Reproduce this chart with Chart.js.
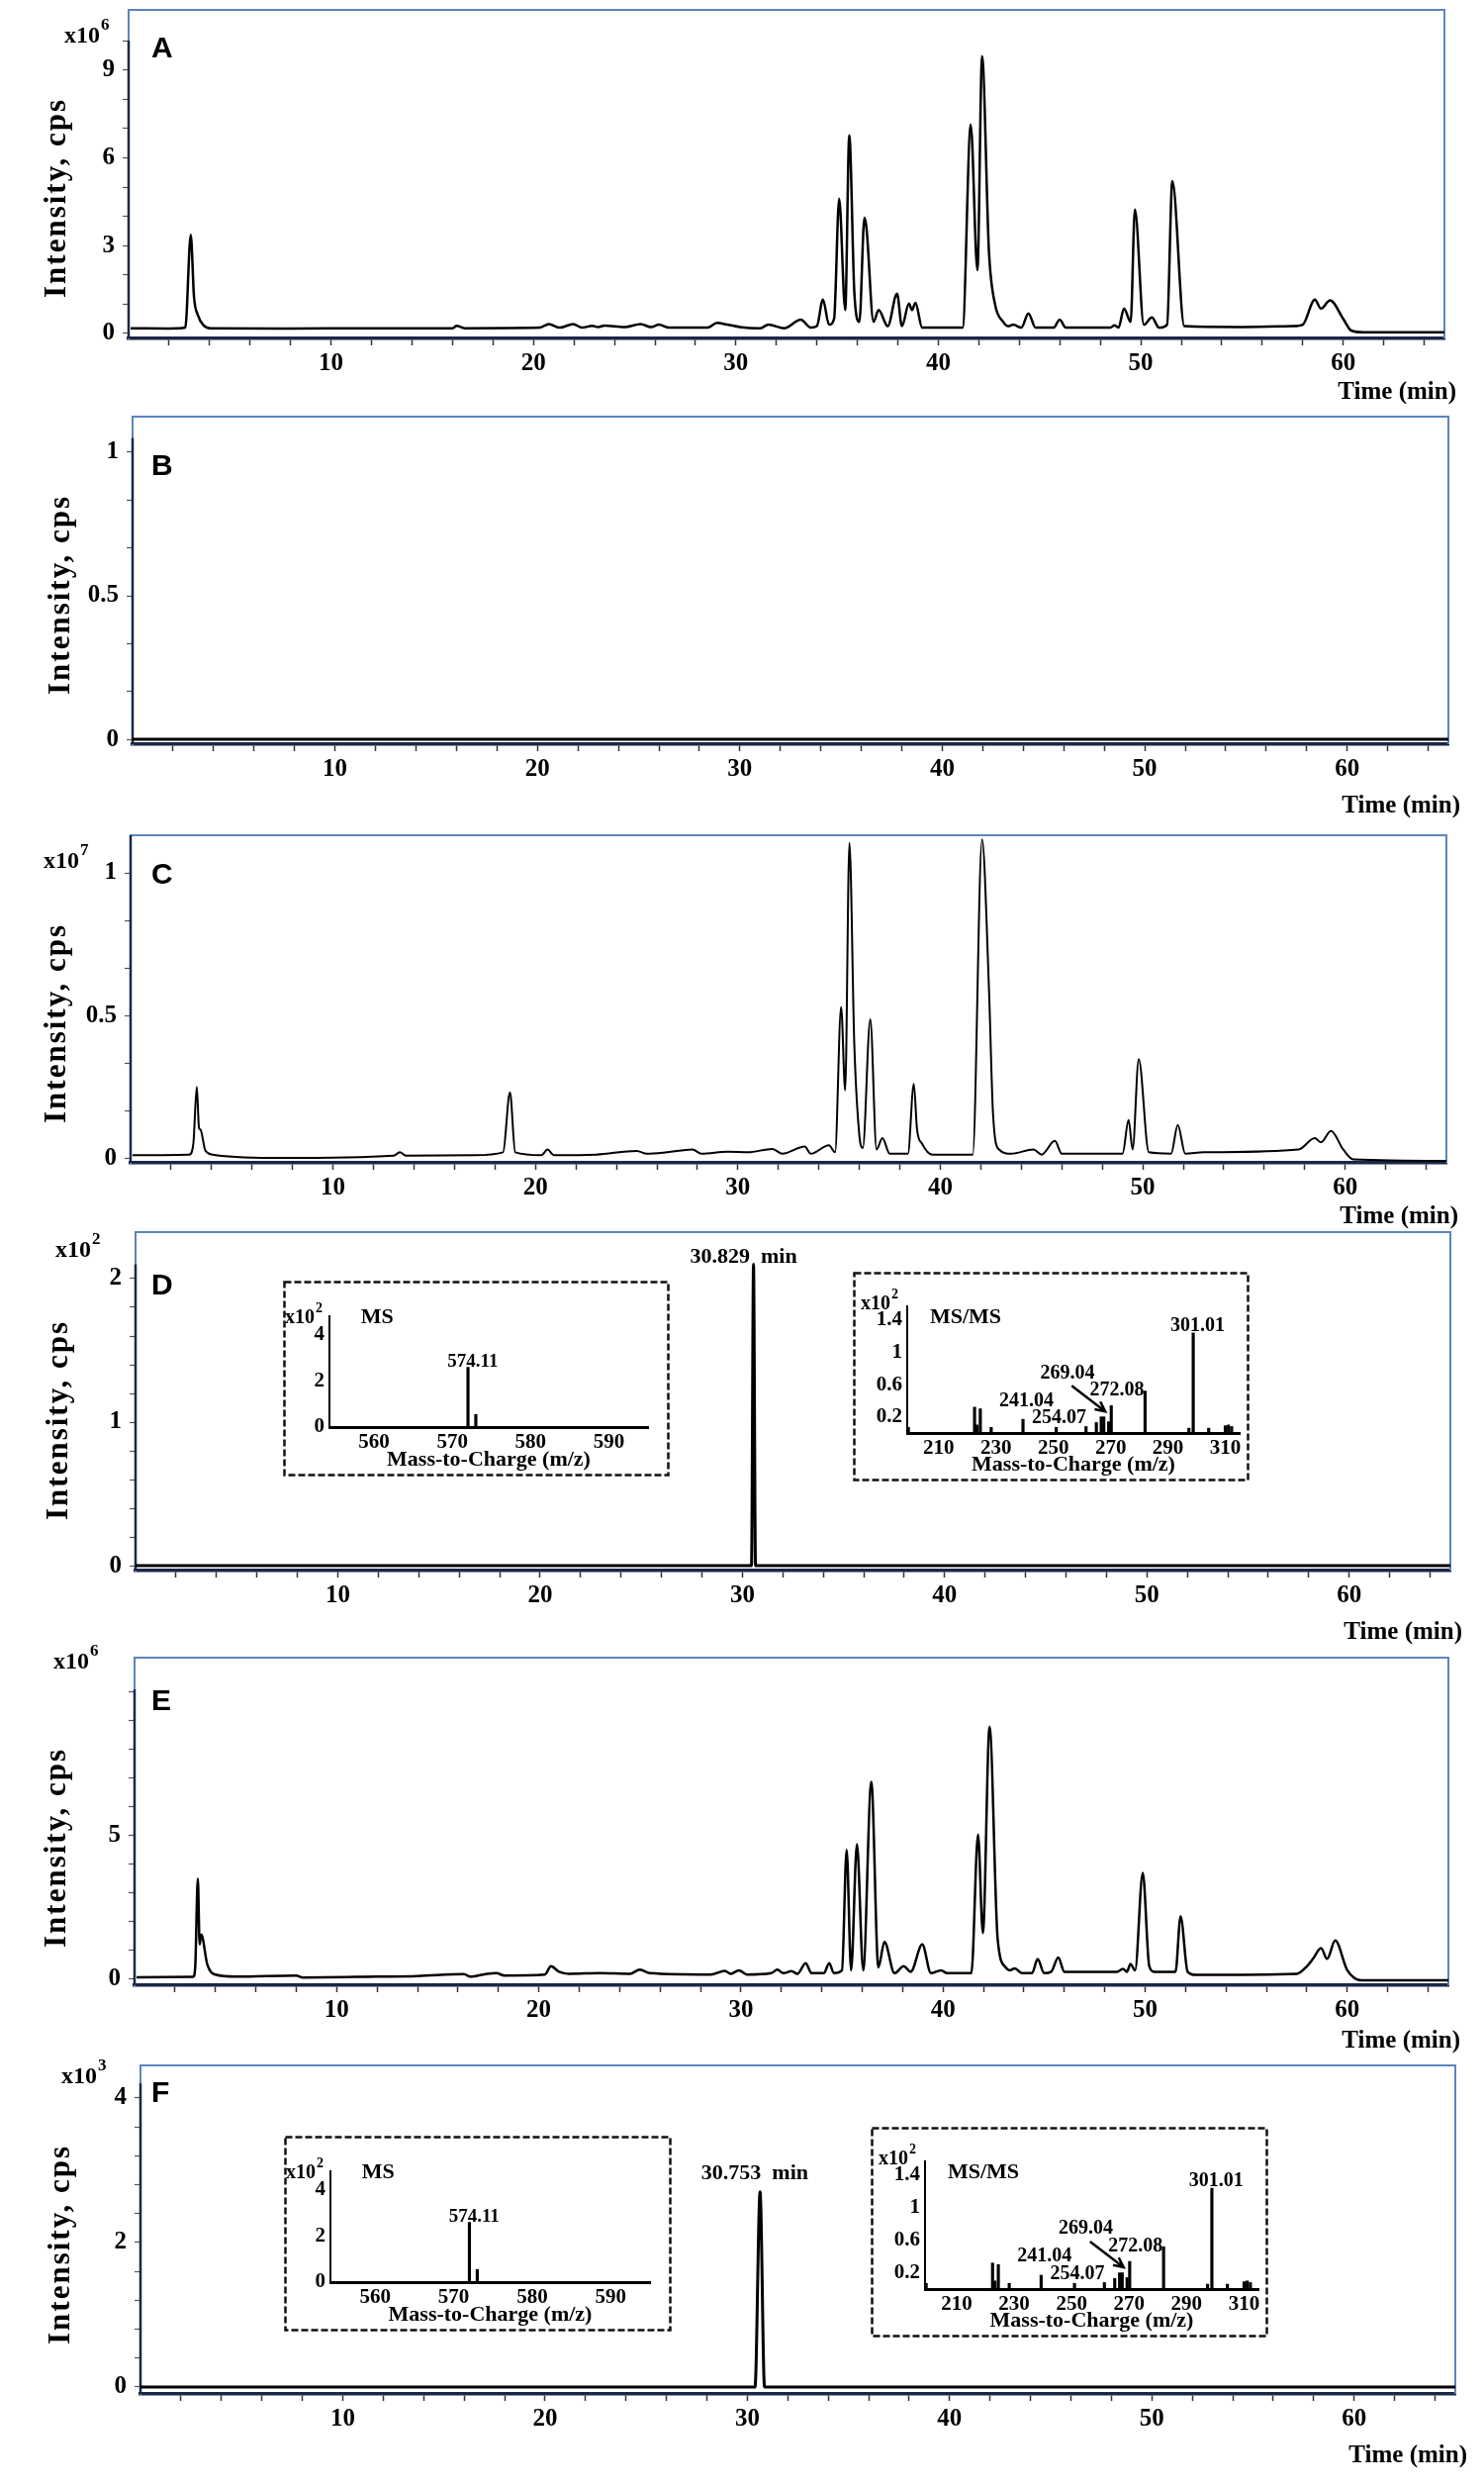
<!DOCTYPE html>
<html>
<head>
<meta charset="utf-8">
<script src="https://cdn.jsdelivr.net/npm/chart.js@4.4.1/dist/chart.umd.min.js"></script>
<style>
  html, body { margin: 0; padding: 0; background: #fff; }
  #page { position: relative; width: 1500px; height: 2512px; overflow: hidden; background: #fff; }
  #page canvas { position: absolute; left: 0; }
</style>
</head>
<body>
<div id="page"></div>
<script>
// ---------- data ----------
const timeTickLabels = [10, 20, 30, 40, 50, 60];

// A: total ion chromatogram, x10^6 cps
const timeA = [0.1, 2.0, 2.8, 3.07, 3.23, 3.42, 3.7, 4.05, 8.0, 12.0, 16.0, 16.2, 16.6, 20.3, 20.76, 21.3, 21.96, 22.4, 22.9, 23.2,
  23.5, 24.5, 25.3, 25.8, 26.2, 26.7, 28.6, 29.06, 29.6, 30.2, 31.2, 31.6, 32.4, 33.2, 33.7, 34.0, 34.3, 34.6, 34.85, 35.1,
  35.4, 35.6, 35.85, 36.1, 36.35, 36.45, 36.8, 37.05, 37.5, 37.96, 38.2, 38.55, 38.7, 38.87, 39.2, 41.2, 41.6, 41.93, 42.16, 42.5,
  42.8, 43.2, 43.45, 43.7, 44.1, 44.45, 44.8, 45.7, 45.99, 46.3, 48.5, 48.7, 48.9, 49.17, 49.5, 49.71, 50.15, 50.55, 50.9, 51.3,
  51.56, 52.15, 55.0, 57.5, 58.0, 58.6, 58.9, 59.35, 60.0, 60.4, 61.0, 65.0];
const intA = [0.18, 0.17, 0.2, 3.37, 1.25, 0.63, 0.28, 0.18, 0.17, 0.18, 0.18, 0.26, 0.18, 0.2, 0.32, 0.2, 0.32, 0.2, 0.26, 0.22,
  0.27, 0.22, 0.32, 0.22, 0.3, 0.2, 0.2, 0.36, 0.3, 0.22, 0.18, 0.3, 0.18, 0.47, 0.2, 0.25, 1.16, 0.3, 0.5, 4.6,
  0.8, 6.77, 1.4, 0.4, 3.95, 3.6, 0.4, 0.8, 0.25, 1.36, 0.25, 1.02, 0.8, 1.05, 0.2, 0.2, 7.13, 2.16, 9.47, 2.8,
  1.0, 0.4, 0.25, 0.3, 0.2, 0.68, 0.2, 0.2, 0.47, 0.2, 0.2, 0.28, 0.2, 0.85, 0.4, 4.23, 0.3, 0.55, 0.2, 0.3,
  5.2, 0.25, 0.22, 0.25, 0.3, 1.16, 0.85, 1.13, 0.5, 0.1, 0.04, 0.04];

// B: blank, flat
const timeB = [0, 65];
const intB = [0, 0];

// C: x10^7 cps
const timeC = [0.1, 2.9, 3.1, 3.27, 3.38, 3.45, 3.7, 4.2, 7.5, 13.0, 13.3, 13.6, 17.0, 18.4, 18.74, 19.0, 20.3, 20.6, 20.9, 23.0,
  25.0, 25.5, 26.5, 27.75, 28.2, 29.5, 30.5, 31.7, 32.2, 33.3, 33.6, 34.5, 34.8, 35.1, 35.3, 35.51, 35.75, 36.0, 36.17, 36.54,
  36.85, 37.14, 37.5, 38.4, 38.69, 38.85, 39.1, 39.6, 41.6, 42.06, 42.4, 42.6, 42.9, 43.5, 44.6, 45.0, 45.66, 46.0, 49.0, 49.3,
  49.5, 49.8, 50.3, 51.4, 51.73, 52.1, 53.0, 57.7, 58.5, 58.8, 59.3, 59.9, 60.4, 65.0];
const intC = [0.01, 0.012, 0.05, 0.249, 0.105, 0.1, 0.025, 0.01, 0.0, 0.008, 0.02, 0.008, 0.01, 0.02, 0.23, 0.02, 0.01, 0.03, 0.01, 0.012,
  0.025, 0.015, 0.02, 0.03, 0.015, 0.022, 0.02, 0.032, 0.015, 0.04, 0.015, 0.045, 0.02, 0.53, 0.237, 1.105, 0.4, 0.08, 0.035, 0.486,
  0.03, 0.07, 0.015, 0.015, 0.26, 0.1, 0.05, 0.012, 0.012, 1.117, 0.6, 0.16, 0.03, 0.015, 0.03, 0.012, 0.06, 0.015, 0.015, 0.133,
  0.03, 0.347, 0.02, 0.015, 0.116, 0.015, 0.02, 0.03, 0.07, 0.055, 0.095, 0.03, -0.005, -0.01];

// D: x10^2 cps, single peak
const timeD = [0, 30.45, 30.55, 30.65, 65];
const intD = [0, 0, 2.1, 0, 0];

// E: x10^6 cps
const timeE = [0.1, 2.9, 3.0, 3.13, 3.22, 3.3, 3.6, 4.0, 5.0, 8.0, 8.3, 12.0, 14.0, 16.3, 16.6, 17.45, 17.9, 18.3, 20.3, 20.6,
  21.0, 21.5, 23.0, 24.5, 25.0, 25.5, 28.5, 29.2, 29.5, 29.9, 30.3, 31.5, 31.8, 32.1, 32.5, 32.8, 33.2, 33.5, 34.1, 34.37,
  34.6, 35.0, 35.23, 35.45, 35.74, 36.05, 36.45, 36.8, 37.1, 37.6, 38.05, 38.4, 38.97, 39.4, 39.9, 40.2, 41.4, 41.73, 41.97, 42.3,
  42.7, 43.1, 43.3, 43.55, 43.9, 44.4, 44.68, 45.0, 45.35, 45.7, 46.0, 48.6, 48.9, 49.1, 49.27, 49.5, 49.88, 50.2, 50.45, 51.5,
  51.75, 52.1, 52.5, 57.5, 58.0, 58.3, 58.7, 59.0, 59.4, 60.0, 60.7, 65.0];
const intE = [0.06, 0.07, 0.4, 3.5, 1.2, 1.55, 0.5, 0.15, 0.08, 0.12, 0.05, 0.08, 0.1, 0.17, 0.08, 0.18, 0.2, 0.12, 0.15, 0.44,
  0.25, 0.18, 0.2, 0.18, 0.32, 0.2, 0.15, 0.28, 0.18, 0.3, 0.15, 0.2, 0.32, 0.2, 0.27, 0.18, 0.55, 0.2, 0.2, 0.55,
  0.2, 0.3, 4.5, 0.3, 4.7, 0.3, 6.87, 0.4, 1.29, 0.2, 0.44, 0.25, 1.2, 0.2, 0.3, 0.2, 0.2, 5.03, 1.6, 8.79,
  1.4, 0.4, 0.3, 0.37, 0.2, 0.2, 0.69, 0.2, 0.25, 0.75, 0.25, 0.25, 0.35, 0.25, 0.52, 0.3, 3.7, 0.45, 0.25, 0.25,
  2.18, 0.25, 0.14, 0.18, 0.44, 0.7, 1.07, 0.7, 1.34, 0.3, -0.05, -0.05];

// F: x10^3 cps, single peak
const timeF = [0, 30.38, 30.63, 30.85, 65];
const intF = [0, 0, 2.7, 0, 0];

// y tick labels per panel
const yLabelsA = [0, 3, 6, 9];
const yLabelsB = [0, 0.5, 1];
const yLabelsC = [0, 0.5, 1];
const yLabelsD = [0, 1, 2];
const yLabelsE = [0, 5];
const yLabelsF = [0, 2, 4];

// MS inset (x10^2)
const msMz = [572.0, 573.0];
const msInt = [2.6, 0.55];
const msMzLabels = [560, 570, 580, 590];
const msIntLabels = [0, 2, 4];
const msPeakText = '574.11';

// MS/MS inset (x10^2)
const msmsMz = [199.4, 222.5, 223.3, 224.5, 228.3, 239.4, 251.0, 261.4, 265.0, 266.7, 267.6, 269.3, 270.2, 282.0, 297.3, 298.8, 304.2, 310.0, 311.1, 312.2];
const msmsInt = [0.07, 0.32, 0.1, 0.3, 0.07, 0.17, 0.07, 0.08, 0.13, 0.2, 0.2, 0.14, 0.34, 0.52, 0.06, 1.24, 0.06, 0.09, 0.1, 0.08];
const msmsMzLabels = [210, 230, 250, 270, 290, 310];
const msmsIntLabels = [0.2, 0.6, 1, 1.4];
const msmsPeakTexts = ['301.01', '269.04', '272.08', '241.04', '254.07'];

// ---------- styling ----------
const FRAME = '#5b86bd';
const AXIS = '#1b2747';
const SERIF = '"Liberation Serif", "Times New Roman", serif';
const SANS = '"Liberation Sans", Arial, sans-serif';
const PAD_T = 30;
const XAXIS_H = 90;
const page = document.getElementById('page');

function near(list, v) {
  const hit = list.find(l => Math.abs(l - v) < 1e-6);
  return hit === undefined ? '' : String(hit);
}

function drawExpo(ctx, x, y, big, small, expo) {
  ctx.font = 'bold ' + big + 'px ' + SERIF;
  ctx.textAlign = 'left';
  ctx.textBaseline = 'alphabetic';
  ctx.fillText('x10', x, y);
  const w = ctx.measureText('x10').width;
  ctx.font = 'bold ' + small + 'px ' + SERIF;
  ctx.fillText(expo, x + w + 1, y - big * 0.55);
}

// frame, dark y axis, panel letter, titles
const panelDeco = {
  id: 'panelDeco',
  beforeDatasetsDraw(chart, args, o) {
    const { ctx, chartArea: a, scales } = chart;
    ctx.save();
    ctx.strokeStyle = FRAME;
    ctx.lineWidth = 2;
    ctx.beginPath();
    ctx.moveTo(a.left, a.bottom);
    ctx.lineTo(a.left, a.top);
    ctx.lineTo(a.right, a.top);
    ctx.lineTo(a.right, a.bottom);
    ctx.stroke();
    const yTop = scales.y.getPixelForValue(o.axisTop);
    ctx.strokeStyle = AXIS;
    ctx.lineWidth = 2.5;
    ctx.beginPath();
    ctx.moveTo(a.left, yTop);
    ctx.lineTo(a.left, a.bottom);
    ctx.stroke();
    ctx.restore();
  },
  afterDraw(chart, args, o) {
    const { ctx, chartArea: a, scales } = chart;
    const cy = y => y - o.canvasTop;
    ctx.save();
    ctx.fillStyle = '#000';

    ctx.font = 'bold 30px ' + SANS;
    ctx.textAlign = 'left';
    ctx.textBaseline = 'alphabetic';
    ctx.fillText(o.letter, 153, cy(o.letterY));

    if (o.expo) drawExpo(ctx, o.expoPos[0], cy(o.expoPos[1]), 24, 17, o.expo);

    ctx.save();
    ctx.translate(o.titleX, cy(o.titleY));
    ctx.rotate(-Math.PI / 2);
    ctx.font = 'bold 31px ' + SERIF;
    ctx.letterSpacing = '2px';
    ctx.textAlign = 'center';
    ctx.textBaseline = 'middle';
    ctx.fillText('Intensity, cps', 0, 0);
    ctx.restore();

    ctx.font = 'bold 25px ' + SERIF;
    ctx.textAlign = 'right';
    ctx.textBaseline = 'middle';
    ctx.fillText('Time (min)', a.right + 12, cy(o.timeY));

    if (o.peakLabel) {
      ctx.font = 'bold 22px ' + SERIF;
      ctx.textAlign = 'center';
      ctx.fillText(o.peakLabel.text, scales.x.getPixelForValue(o.peakLabel.t), scales.y.getPixelForValue(o.peakLabel.v));
    }
    ctx.restore();
  }
};

const panels = [
  { letter: 'A', times: timeA, values: intA, lw: 2.5, box: [130, 10, 1460, 342], yRange: [-0.17, 11.05], minor: 1, yLabels: yLabelsA, axisTop: 10,
    letterY: 58, expo: '6', expoPos: [65, 43], titleX: 58, titleY: 200, timeY: 397 },
  { letter: 'B', times: timeB, values: intB, lw: 3, box: [134, 421, 1464, 752], yRange: [-0.017, 1.124], minor: 1 / 6, yLabels: yLabelsB, axisTop: 1.05,
    letterY: 480, expo: null, titleX: 62, titleY: 601, timeY: 815 },
  { letter: 'C', times: timeC, values: intC, lw: 2, box: [132, 844, 1462, 1175], yRange: [-0.017, 1.132], minor: 1 / 6, yLabels: yLabelsC, axisTop: 1.132,
    letterY: 893, expo: '7', expoPos: [44, 877], titleX: 58, titleY: 1034, timeY: 1230 },
  { letter: 'D', times: timeD, values: intD, lw: 3, box: [137, 1245, 1466, 1587], yRange: [-0.034, 2.324], minor: 0.2, yLabels: yLabelsD, axisTop: 2.1,
    letterY: 1308, expo: '2', expoPos: [56, 1270], titleX: 60, titleY: 1435, timeY: 1650,
    peakLabel: { text: '30.829  min', t: 30.06, v: 2.15 } },
  { letter: 'E', times: timeE, values: intE, lw: 2.5, box: [136, 1675, 1464, 2006], yRange: [-0.22, 11.2], minor: 1, yLabels: yLabelsE, axisTop: 10.1,
    letterY: 1728, expo: '6', expoPos: [54, 1686], titleX: 58, titleY: 1867, timeY: 2063 },
  { letter: 'F', times: timeF, values: intF, lw: 3, box: [142, 2087, 1471, 2419], yRange: [-0.096, 4.45], minor: 0.4, yLabels: yLabelsF, axisTop: 4.2,
    letterY: 2124, expo: '3', expoPos: [62, 2105], titleX: 62, titleY: 2268, timeY: 2482,
    peakLabel: { text: '30.753  min', t: 30.37, v: 2.95 } }
];

function makeCanvas(left, top, w, h) {
  const c = document.createElement('canvas');
  c.width = w; c.height = h;
  c.style.left = left + 'px'; c.style.top = top + 'px';
  c.style.width = w + 'px'; c.style.height = h + 'px';
  page.appendChild(c);
  return c;
}

const timeTicks = [];
for (let t = 2; t <= 64; t += 2) timeTicks.push(t);

panels.forEach(p => {
  const [left, top, right, bottom] = p.box;
  const canvasTop = top - PAD_T;
  const canvas = makeCanvas(0, canvasTop, 1500, bottom - top + PAD_T + XAXIS_H);
  const yTicks = [];
  for (let k = 0; k * p.minor <= p.axisTop + 1e-9; k++) yTicks.push(k * p.minor);
  const tickFont = { family: SERIF, size: 25, weight: 'bold' };

  new Chart(canvas, {
    type: 'line',
    data: {
      datasets: [{
        data: p.times.map((t, i) => ({ x: t, y: p.values[i] })),
        borderColor: '#000',
        borderWidth: p.lw,
        pointRadius: 0,
        cubicInterpolationMode: 'monotone',
        fill: false
      }]
    },
    options: {
      responsive: false,
      animation: false,
      devicePixelRatio: 1,
      layout: { padding: { top: PAD_T, right: 1500 - right, left: 0, bottom: 0 } },
      plugins: {
        legend: { display: false },
        tooltip: { enabled: false },
        panelDeco: Object.assign({ canvasTop }, p)
      },
      scales: {
        x: {
          type: 'linear', min: 0, max: 65,
          afterFit: s => { s.height = XAXIS_H; },
          afterBuildTicks: s => { s.ticks = timeTicks.map(v => ({ value: v })); },
          ticks: { autoSkip: false, maxRotation: 0, padding: 4, color: '#000', font: tickFont,
            callback: v => near(timeTickLabels, v) },
          grid: { drawOnChartArea: false, drawTicks: true, tickLength: 7, tickColor: '#333', tickWidth: 1.5 },
          border: { display: true, color: AXIS, width: 3.5 }
        },
        y: {
          type: 'linear', min: p.yRange[0], max: p.yRange[1],
          afterFit: s => { s.width = left; },
          afterBuildTicks: s => { s.ticks = yTicks.map(v => ({ value: v })); },
          ticks: { autoSkip: false, padding: 8, color: '#000', font: tickFont,
            callback: v => near(p.yLabels, v) },
          grid: { drawOnChartArea: false, drawTicks: true, tickLength: 6, tickColor: '#555', tickWidth: 1.2 },
          border: { display: true, color: FRAME, width: 2 }
        }
      }
    },
    plugins: [panelDeco]
  });
});

// ---------- MS and MS/MS insets ----------
const insetDeco = {
  id: 'insetDeco',
  afterDraw(chart, args, o) {
    const { ctx, chartArea: a, scales: { x, y } } = chart;
    ctx.save();
    ctx.strokeStyle = '#111';
    ctx.lineWidth = 2.5;
    ctx.setLineDash([7, 3]);
    ctx.strokeRect(1.5, 1.5, chart.width - 3, chart.height - 3);
    ctx.setLineDash([]);
    ctx.fillStyle = '#000';
    drawExpo(ctx, a.left + o.expoDx, a.top + o.expoDy, 20, 14, '2');
    o.labels.forEach(l => {
      ctx.font = 'bold ' + l.size + 'px ' + SERIF;
      ctx.textAlign = l.align || 'center';
      ctx.textBaseline = 'middle';
      ctx.fillText(l.text, x.getPixelForValue(l.mz), y.getPixelForValue(l.v));
    });
    if (o.arrow) {
      const x0 = x.getPixelForValue(o.arrow[0]), y0 = y.getPixelForValue(o.arrow[1]);
      const x1 = x.getPixelForValue(o.arrow[2]), y1 = y.getPixelForValue(o.arrow[3]);
      const ang = Math.atan2(y1 - y0, x1 - x0);
      ctx.strokeStyle = '#000';
      ctx.lineWidth = 2.5;
      ctx.beginPath();
      ctx.moveTo(x0, y0);
      ctx.lineTo(x1, y1);
      ctx.moveTo(x1 - 11 * Math.cos(ang - 0.45), y1 - 11 * Math.sin(ang - 0.45));
      ctx.lineTo(x1, y1);
      ctx.lineTo(x1 - 11 * Math.cos(ang + 0.45), y1 - 11 * Math.sin(ang + 0.45));
      ctx.stroke();
    }
    ctx.restore();
  }
};

const insetKinds = {
  ms: {
    mz: msMz, int: msInt, xRange: [554.3, 595], yRange: [0, 4.82], xLabels: msMzLabels, yLabels: msIntLabels,
    pad: { left: 47, top: 36, right: 22, bottom: 50 }, expoDx: -45, expoDy: 7,
    labels: [
      { text: 'MS', mz: 558.3, v: 4.75, size: 22, align: 'left' },
      { text: msPeakText, mz: 572.6, v: 2.84, size: 19 }
    ],
    arrow: null
  },
  msms: {
    mz: msmsMz, int: msmsInt, xRange: [199, 315], yRange: [0, 1.57], xLabels: msmsMzLabels, yLabels: msmsIntLabels,
    pad: { left: 55, top: 35, right: 10, bottom: 49 }, expoDx: -47, expoDy: 3,
    labels: [
      { text: 'MS/MS', mz: 206.9, v: 1.43, size: 22, align: 'left' },
      { text: msmsPeakTexts[0], mz: 300.3, v: 1.33, size: 20 },
      { text: msmsPeakTexts[1], mz: 254.9, v: 0.74, size: 20 },
      { text: msmsPeakTexts[2], mz: 272.2, v: 0.53, size: 20 },
      { text: msmsPeakTexts[3], mz: 240.6, v: 0.40, size: 20 },
      { text: msmsPeakTexts[4], mz: 252.0, v: 0.19, size: 20 }
    ],
    arrow: [256.4, 0.585, 268.1, 0.267]
  }
};

const insets = [
  { kind: 'ms', box: [286, 1294, 391, 198] },
  { kind: 'msms', box: [862, 1285, 401, 212] },
  { kind: 'ms', box: [287, 2158, 392, 198] },
  { kind: 'msms', box: [880, 2149, 402, 213] }
];

insets.forEach(ins => {
  const k = insetKinds[ins.kind];
  const [bx, by, bw, bh] = ins.box;
  const canvas = makeCanvas(bx, by, bw, bh);
  const font = { family: SERIF, size: 21, weight: 'bold' };
  new Chart(canvas, {
    type: 'bar',
    data: {
      datasets: [{
        data: k.mz.map((m, i) => ({ x: m, y: k.int[i] })),
        backgroundColor: '#000',
        borderWidth: 0,
        barThickness: 2.5
      }]
    },
    options: {
      responsive: false,
      animation: false,
      devicePixelRatio: 1,
      layout: { padding: { top: k.pad.top, right: k.pad.right, left: 0, bottom: 0 } },
      plugins: {
        legend: { display: false },
        tooltip: { enabled: false },
        insetDeco: k
      },
      scales: {
        x: {
          type: 'linear', min: k.xRange[0], max: k.xRange[1], offset: false,
          afterFit: s => { s.height = k.pad.bottom; },
          afterBuildTicks: s => { s.ticks = k.xLabels.map(v => ({ value: v })); },
          ticks: { autoSkip: false, maxRotation: 0, padding: 3, color: '#000', font,
            callback: v => near(k.xLabels, v) },
          grid: { display: true, drawOnChartArea: false, drawTicks: false, offset: false },
          border: { display: true, color: '#000', width: 3 },
          title: { display: true, text: 'Mass-to-Charge (m/z)', color: '#000',
            font: { family: SERIF, size: 22, weight: 'bold' }, padding: { top: 0, bottom: 3 } }
        },
        y: {
          type: 'linear', min: k.yRange[0], max: k.yRange[1],
          afterFit: s => { s.width = k.pad.left; },
          afterBuildTicks: s => { s.ticks = k.yLabels.map(v => ({ value: v })); },
          ticks: { autoSkip: false, padding: 5, color: '#000', font,
            callback: v => near(k.yLabels, v) },
          grid: { display: true, drawOnChartArea: false, drawTicks: false },
          border: { display: true, color: '#000', width: 2 }
        }
      }
    },
    plugins: [insetDeco]
  });
});
</script>
</body>
</html>
